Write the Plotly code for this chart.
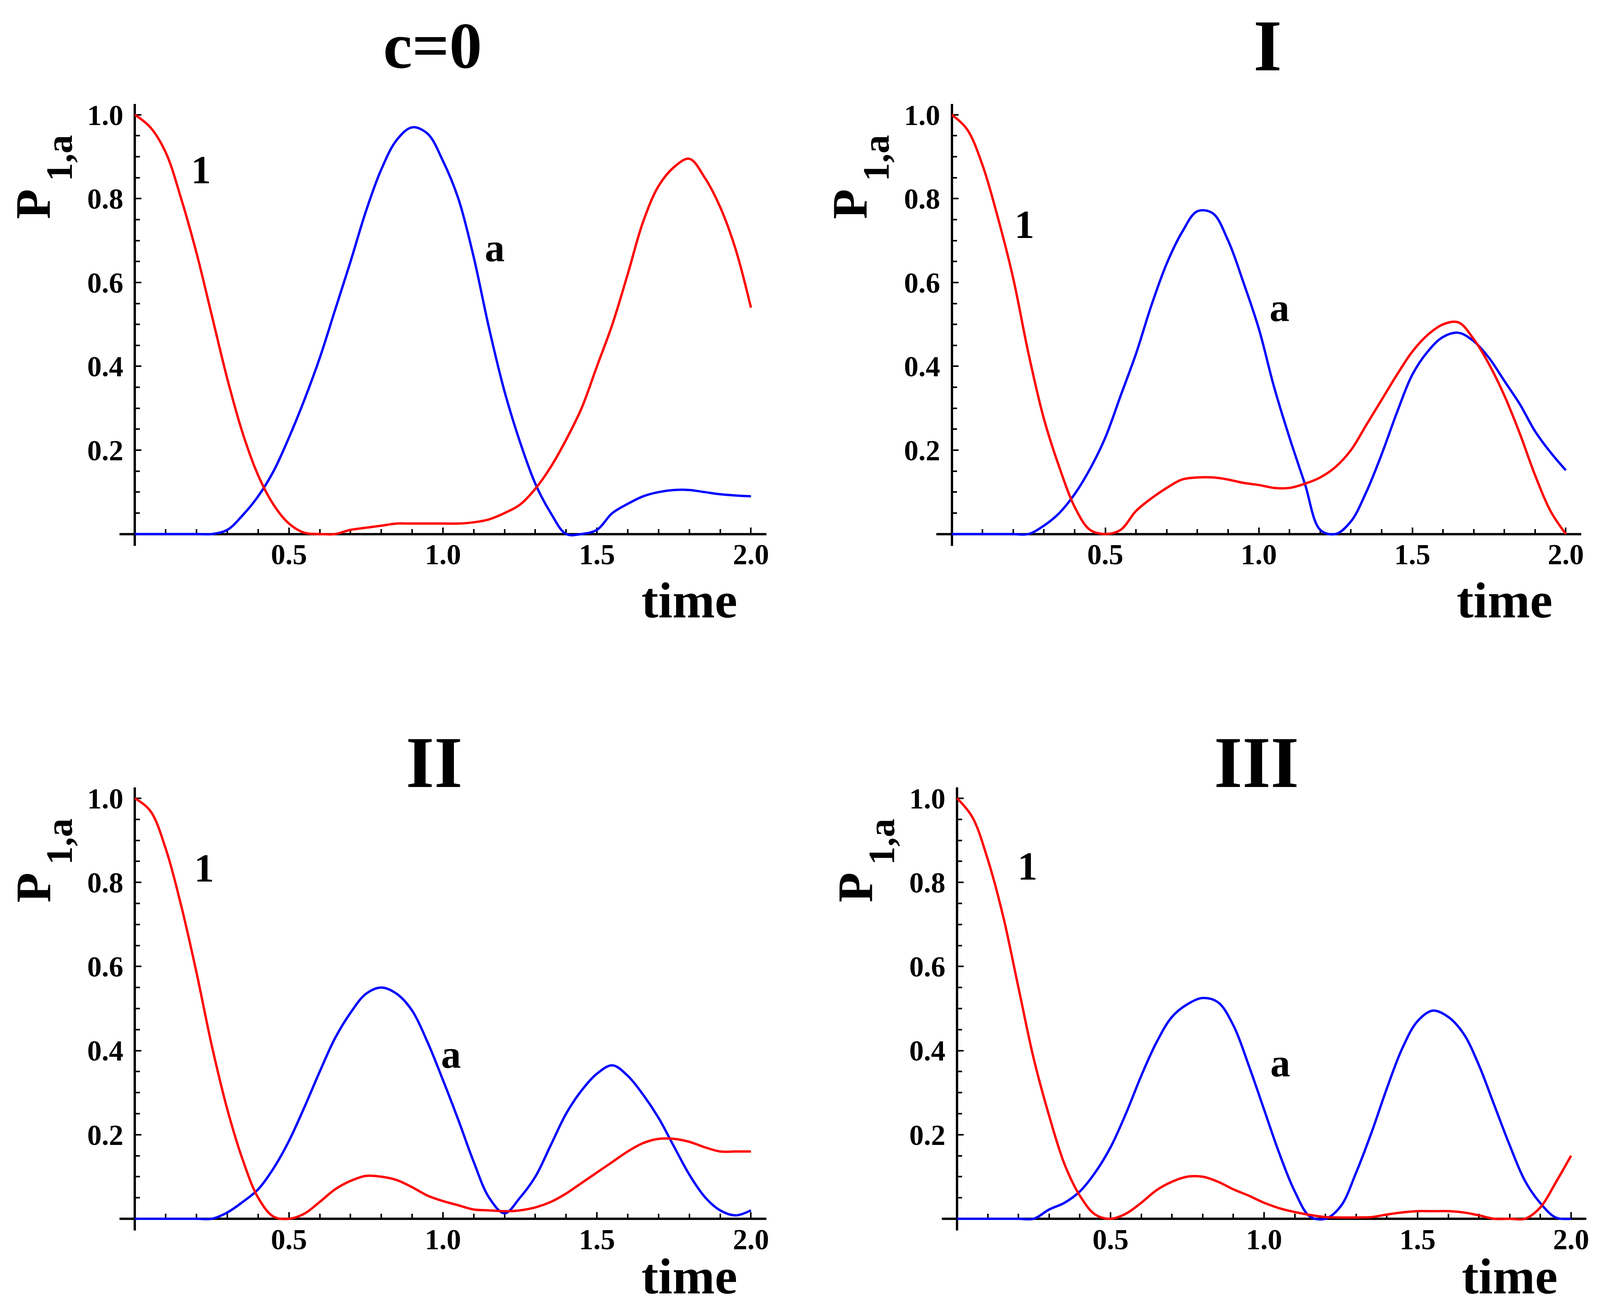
import plotly.graph_objects as go

# reference layout is measured in a 4550x3355 frame; the page is drawn at the
# browser's viewport size, so every position below is turned into a paper fraction
REF_W, REF_H = 4550, 3355
FIG_W, FIG_H = 4080, 3339
FS = 0.93  # font scale for the narrower page

time = [0.0, 0.05, 0.1, 0.15, 0.2, 0.25, 0.3, 0.35, 0.4, 0.45,
        0.5, 0.55, 0.6, 0.65, 0.7, 0.75, 0.8, 0.85, 0.9, 0.95,
        1.0, 1.05, 1.1, 1.15, 1.2, 1.25, 1.3, 1.35, 1.4, 1.45,
        1.5, 1.55, 1.6, 1.65, 1.7, 1.75, 1.8, 1.85, 1.9, 1.95, 2.0]

# c=0
p1_c0 = [1.0, 0.97, 0.91, 0.80, 0.67, 0.52, 0.37, 0.24, 0.14, 0.07,
         0.025, 0.003, 0.0, 0.0, 0.01, 0.015, 0.02, 0.025, 0.025, 0.025,
         0.025, 0.025, 0.028, 0.035, 0.05, 0.07, 0.108, 0.16, 0.225, 0.30,
         0.40, 0.50, 0.62, 0.745, 0.83, 0.875, 0.895, 0.85, 0.78, 0.68, 0.54]
pa_c0 = [0.0, 0.0, 0.0, 0.0, 0.0, 0.0, 0.01, 0.045, 0.09, 0.15,
         0.23, 0.32, 0.42, 0.535, 0.65, 0.77, 0.87, 0.94, 0.97, 0.955,
         0.89, 0.80, 0.66, 0.49, 0.34, 0.22, 0.12, 0.05, 0.0, 0.0,
         0.01, 0.05, 0.072, 0.09, 0.10, 0.105, 0.105, 0.10, 0.095, 0.092, 0.09]

# I
p1_I = [1.0, 0.965, 0.88, 0.755, 0.61, 0.43, 0.275, 0.16, 0.065, 0.01,
        0.0, 0.01, 0.055, 0.085, 0.11, 0.13, 0.135, 0.135, 0.13, 0.122,
        0.117, 0.11, 0.11, 0.12, 0.135, 0.16, 0.20, 0.26, 0.32, 0.38,
        0.435, 0.475, 0.50, 0.505, 0.465, 0.405, 0.33, 0.24, 0.14, 0.055, 0.0]
pa_I = [0.0, 0.0, 0.0, 0.0, 0.0, 0.0, 0.02, 0.05, 0.095, 0.155,
        0.23, 0.33, 0.43, 0.545, 0.645, 0.72, 0.77, 0.765, 0.70, 0.60,
        0.49, 0.35, 0.23, 0.12, 0.01, 0.0, 0.03, 0.10, 0.19, 0.29,
        0.38, 0.435, 0.47, 0.48, 0.46, 0.42, 0.365, 0.31, 0.245, 0.195, 0.152]

# II
p1_II = [1.0, 0.97, 0.88, 0.745, 0.585, 0.41, 0.26, 0.14, 0.05, 0.005,
         0.0, 0.012, 0.04, 0.07, 0.09, 0.102, 0.10, 0.092, 0.075, 0.055,
         0.042, 0.032, 0.022, 0.02, 0.018, 0.02, 0.027, 0.04, 0.06, 0.085,
         0.11, 0.135, 0.16, 0.18, 0.19, 0.19, 0.183, 0.17, 0.16, 0.16, 0.16]
pa_II = [0.0, 0.0, 0.0, 0.0, 0.0, 0.0, 0.015, 0.04, 0.07, 0.12,
         0.185, 0.265, 0.35, 0.43, 0.49, 0.535, 0.55, 0.535, 0.495, 0.42,
         0.33, 0.235, 0.135, 0.05, 0.013, 0.05, 0.10, 0.175, 0.25, 0.305,
         0.345, 0.365, 0.34, 0.295, 0.24, 0.172, 0.105, 0.052, 0.02, 0.008, 0.02]

# III
p1_III = [1.0, 0.955, 0.855, 0.72, 0.55, 0.38, 0.245, 0.13, 0.055, 0.01,
          0.0, 0.012, 0.038, 0.068, 0.088, 0.10, 0.10, 0.088, 0.07, 0.055,
          0.038, 0.025, 0.016, 0.009, 0.004, 0.003, 0.003, 0.004, 0.01, 0.015,
          0.018, 0.018, 0.018, 0.015, 0.008, 0.0, 0.0, 0.0, 0.027, 0.086, 0.15]
pa_III = [0.0, 0.0, 0.0, 0.0, 0.0, 0.0, 0.022, 0.038, 0.065, 0.11,
          0.17, 0.25, 0.34, 0.42, 0.48, 0.51, 0.525, 0.515, 0.46, 0.365,
          0.26, 0.155, 0.065, 0.005, 0.0, 0.03, 0.11, 0.205, 0.31, 0.405,
          0.47, 0.495, 0.48, 0.44, 0.365, 0.27, 0.175, 0.09, 0.037, 0.003, 0.0]

titles = ["c=0", "I", "II", "III"]
x_ticks = [0.5, 1.0, 1.5, 2.0]
x_ticktext = ["0.5", "1.0", "1.5", "2.0"]
y_ticks = [0.2, 0.4, 0.6, 0.8, 1.0]
y_ticktext = ["0.2", "0.4", "0.6", "0.8", "1.0"]

series = [(p1_c0, pa_c0), (p1_I, pa_I), (p1_II, pa_II), (p1_III, pa_III)]

# origin of each panel's axes and reference pixels per data unit
origins = [(377, 1358, 880.8, 1082), (2713, 1358, 878, 1082),
           (377, 3125, 880.8, 1085), (2728, 3125, 878, 1085)]
title_size = [180, 200, 200, 200]
title_base = [158, 165, 2015, 2015]
title_cx = [1228, 3616, 1233, 3584]
time_drop = [218, 218, 196, 196]
lab1 = [(0.215, 0.869), (0.237, 0.738), (0.225, 0.834), (0.230, 0.839)]
laba = [(1.168, 0.683), (1.067, 0.541), (1.026, 0.392), (1.053, 0.371)]

XR = [-0.05, 2.05]
YR = [-0.028, 1.026]
SERIF = "Liberation Serif"


def px(x):
    return x / REF_W


def py(y):
    return 1 - y / REF_H


def serif(size):
    return dict(family=SERIF, size=round(size * FS), color="black", weight="bold")


fig = go.Figure()
annotations = []

for i, (ox, oy, sx, sy) in enumerate(origins):
    n = "" if i == 0 else str(i + 1)
    xa, ya = "x" + n, "y" + n
    p1, pa = series[i]

    fig.add_trace(go.Scatter(x=time, y=pa, mode="lines", xaxis=xa, yaxis=ya,
                             line=dict(color="#0000ff", width=6, shape="spline", smoothing=1.0),
                             showlegend=False))
    fig.add_trace(go.Scatter(x=time, y=p1, mode="lines", xaxis=xa, yaxis=ya,
                             line=dict(color="#ff0000", width=6, shape="spline", smoothing=1.0),
                             showlegend=False))

    fig.layout["xaxis" + n] = dict(
        domain=[px(ox + XR[0] * sx), px(ox + XR[1] * sx)],
        range=XR, anchor="free", position=py(oy),
        showline=True, linecolor="black", linewidth=6,
        ticks="inside", ticklen=14, tickwidth=4, tickcolor="black",
        tickmode="array", tickvals=x_ticks, ticktext=x_ticktext,
        tickfont=serif(80), ticklabelstandoff=-14,
        minor=dict(dtick=0.1, tick0=0, ticks="inside", ticklen=10,
                   tickwidth=4, tickcolor="black"),
        showgrid=False, zeroline=False, layer="below traces", fixedrange=True)
    fig.layout["yaxis" + n] = dict(
        domain=[py(oy - YR[0] * sy), py(oy - YR[1] * sy)],
        range=YR, anchor="free", position=px(ox),
        showline=True, linecolor="black", linewidth=6,
        ticks="inside", ticklen=14, tickwidth=4, tickcolor="black",
        tickmode="array", tickvals=y_ticks, ticktext=y_ticktext,
        tickfont=serif(80), ticklabelstandoff=12,
        minor=dict(dtick=0.05, tick0=0, ticks="inside", ticklen=10,
                   tickwidth=4, tickcolor="black"),
        showgrid=False, zeroline=False, layer="below traces", fixedrange=True)

    # panel title
    ts = title_size[i]
    annotations.append(dict(text=titles[i], x=px(title_cx[i]), y=py(title_base[i] - 0.3375 * ts),
                            xref="paper", yref="paper", showarrow=False,
                            xanchor="center", yanchor="middle", font=serif(ts)))
    # x axis label
    annotations.append(dict(text="time", x=px(ox + 1.80 * sx),
                            y=py(oy + time_drop[i] - 0.3375 * 140),
                            xref="paper", yref="paper", showarrow=False,
                            xanchor="center", yanchor="middle", font=serif(140)))
    # y axis label P with subscript 1,a
    top = oy - 1.0 * sy
    annotations.append(dict(text="P", x=px(ox - 290), y=py(top + 230), textangle=-90,
                            xref="paper", yref="paper", showarrow=False,
                            xanchor="center", yanchor="middle", font=serif(136)))
    annotations.append(dict(text="1,a", x=px(ox - 216), y=py(top + 112), textangle=-90,
                            xref="paper", yref="paper", showarrow=False,
                            xanchor="center", yanchor="middle", font=serif(102)))
    # curve labels
    for (lx, ly), txt in ((lab1[i], "1"), (laba[i], "a")):
        annotations.append(dict(text=txt, x=lx, y=ly, xref=xa, yref=ya, showarrow=False,
                                xanchor="center", yanchor="middle", font=serif(110)))

fig.update_layout(width=FIG_W, height=FIG_H, margin=dict(l=0, r=0, t=0, b=0),
                  paper_bgcolor="white", plot_bgcolor="white",
                  showlegend=False, annotations=annotations)

fig.write_html("out.html")
